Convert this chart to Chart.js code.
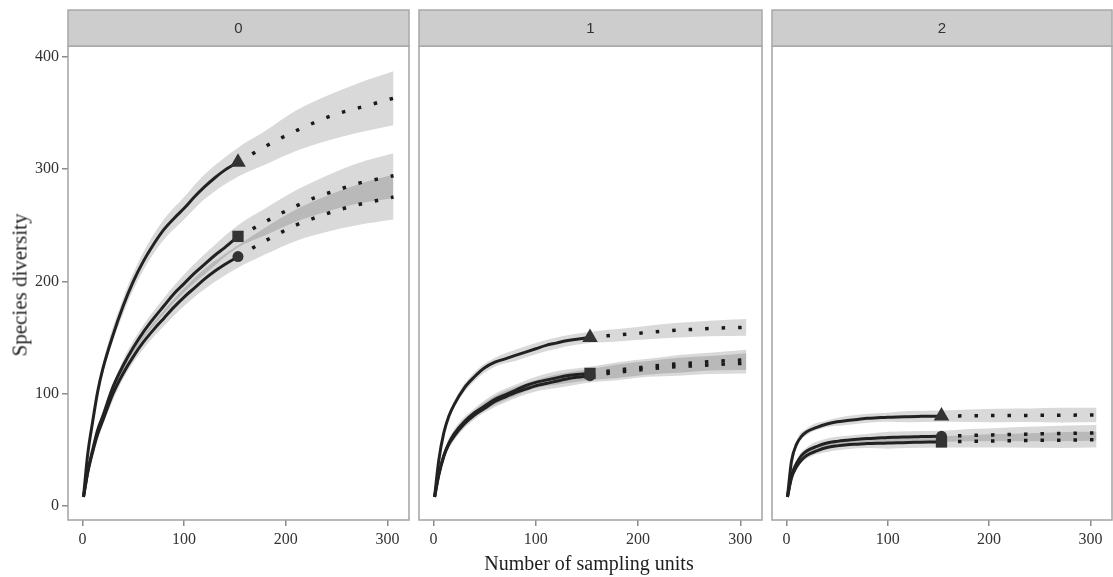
<!DOCTYPE html>
<html>
<head>
<meta charset="utf-8">
<script src="https://cdn.jsdelivr.net/npm/chart.js@4/dist/chart.umd.min.js"></script>
<style>
  html, body { margin: 0; padding: 0; background: #ffffff; }
  #wrap { position: relative; width: 1113px; height: 577px; overflow: hidden; }
  canvas { position: absolute; left: 0; top: 0; }
  .title { position: absolute; font-family: "Liberation Serif", "Times New Roman", serif; color: #1e1e1e; white-space: nowrap; }
  #xtitle { left: 589px; top: 563px; transform: translate(-50%, -50%); font-size: 20px; }
  #ytitle { left: 20px; top: 285px; transform: translate(-50%, -50%) rotate(-90deg); font-size: 21px; }
</style>
</head>
<body>
<div id="wrap">
  <canvas id="c0" width="1113" height="577"></canvas>
  <canvas id="c1" width="1113" height="577"></canvas>
  <canvas id="c2" width="1113" height="577"></canvas>
  <div class="title" id="xtitle">Number of sampling units</div>
  <div class="title" id="ytitle">Species diversity</div>
</div>
<script>
// ---- categories / ticks ----
const panelLabels = ["0", "1", "2"];
const xTicks = [0, 100, 200, 300];
const yTicks = [0, 100, 200, 300, 400];

// ---- sample sizes ----
const interpX = [1, 5, 10, 15, 20, 30, 40, 50, 60, 70, 80, 90, 100, 110, 120, 130, 140, 153];
const extrapX = [153, 170, 190, 210, 230, 250, 270, 290, 306];
const bandX   = [1, 10, 20, 40, 60, 80, 100, 120, 153, 180, 210, 240, 270, 306];

// ---- panel 0 (q = 0) ----
const p0TriInterp = [8, 45, 75, 102, 122, 152, 178, 200, 218, 233, 246, 256, 265, 275, 284, 292, 299, 306];
const p0TriExtrap = [306, 315, 325, 334, 342, 349, 354, 359, 363];
const p0TriLo = [8, 72, 117, 171, 210, 237, 255, 273, 293, 304, 316, 325, 332, 339];
const p0TriHi = [8, 78, 127, 185, 226, 255, 275, 295, 319, 334, 352, 365, 376, 387];
const p0SqInterp = [8, 30, 50, 68, 80, 106, 125, 141, 155, 167, 178, 189, 198, 207, 215, 223, 230, 240];
const p0SqExtrap = [240, 248, 258, 267, 275, 281, 287, 291, 294];
const p0SqLo = [8, 48, 76, 120, 149, 171, 190, 206, 230, 241, 253, 262, 269, 274];
const p0SqHi = [8, 52, 84, 130, 161, 185, 206, 224, 250, 265, 281, 294, 305, 314];
const p0CiInterp = [8, 29, 48, 64, 76, 100, 118, 133, 146, 157, 167, 177, 186, 194, 202, 209, 215, 222];
const p0CiExtrap = [222, 231, 241, 250, 257, 263, 268, 272, 275];
const p0CiLo = [8, 46, 72, 113, 140, 160, 178, 193, 212, 224, 236, 244, 250, 255];
const p0CiHi = [8, 50, 80, 123, 152, 174, 194, 211, 232, 248, 264, 276, 286, 295];

// ---- panel 1 (q = 1) ----
const p1TriInterp = [8, 40, 65, 80, 90, 105, 115, 123, 128, 131, 134, 137, 140, 143, 145, 147, 148.5, 150];
const p1TriExtrap = [150, 151.5, 153, 154.5, 156, 157, 158, 158.7, 159];
const p1TriLo = [8, 63, 87, 111, 124, 129, 135, 140, 145, 146.5, 148.5, 150, 151, 151.5];
const p1TriHi = [8, 67, 93, 119, 132, 139, 145, 150, 155, 157.5, 160.5, 163, 165, 166.5];
const p1SqInterp = [8, 28, 45, 56, 64, 75, 83, 89, 95, 99, 103, 107, 110, 112, 114, 116, 117, 118];
const p1SqExtrap = [118, 120, 122, 124, 126, 127, 128.5, 129.5, 130];
const p1SqLo = [8, 42, 60, 79, 90, 98, 105, 108, 112, 114, 117, 118.5, 120.5, 121];
const p1SqHi = [8, 48, 68, 87, 100, 108, 115, 120, 124, 128, 131, 134.5, 136.5, 139];
const p1CiInterp = [8, 27, 44, 55, 62, 73, 81, 87, 93, 97, 101, 104, 107, 109, 111, 113, 114.5, 116];
const p1CiExtrap = [116, 118, 120, 122, 123.5, 124.5, 125.5, 126.5, 127];
const p1CiLo = [8, 41, 58, 77, 88, 96, 102, 105, 110, 112, 115, 116, 117.5, 118];
const p1CiHi = [8, 47, 66, 85, 98, 106, 112, 117, 122, 126, 129, 132, 133.5, 136];

// ---- panel 2 (q = 2) ----
const p2TriInterp = [8, 40, 55, 62, 66, 70, 73, 75, 76, 77, 78, 78.5, 79, 79.3, 79.5, 79.7, 79.9, 80];
const p2TriExtrap = [80, 80.2, 80.4, 80.5, 80.6, 80.7, 80.8, 80.9, 81];
const p2TriLo = [8, 53, 63, 70, 72, 74, 75, 74.5, 75, 74.8, 74.5, 74.7, 74.4, 74.5];
const p2TriHi = [8, 57, 69, 76, 80, 82, 83, 84.5, 85, 85.8, 86.5, 86.7, 87.4, 87.5];
const p2SqInterp = [8, 25, 35, 41, 45, 49, 52, 53.5, 54.5, 55, 55.5, 55.8, 56, 56.2, 56.5, 56.7, 56.9, 57];
const p2SqExtrap = [57, 57.3, 57.6, 58, 58.2, 58.4, 58.6, 58.8, 59];
const p2SqLo = [8, 33, 42, 48, 50.5, 51.5, 51, 51.5, 52, 52, 52, 51.8, 51.7, 52];
const p2SqHi = [8, 37, 48, 56, 58.5, 59.5, 61, 61.5, 62, 63, 64, 64.8, 65.7, 66];
const p2CiInterp = [8, 27, 38, 45, 49, 53, 56, 57.5, 58.5, 59.3, 60, 60.5, 61, 61.2, 61.5, 61.7, 61.9, 62];
const p2CiExtrap = [62, 62.5, 63, 63.4, 63.8, 64.2, 64.5, 64.8, 65];
const p2CiLo = [8, 36, 46, 52, 54.5, 56, 56, 56.5, 57, 57.5, 57.5, 57.5, 57.5, 58];
const p2CiHi = [8, 40, 52, 60, 62.5, 64, 66, 66.5, 67, 68.5, 69.5, 70.5, 71.5, 72];

// ---- assembling ----
const panels = [
  { tri: [p0TriInterp, p0TriExtrap, p0TriLo, p0TriHi], sq: [p0SqInterp, p0SqExtrap, p0SqLo, p0SqHi], ci: [p0CiInterp, p0CiExtrap, p0CiLo, p0CiHi] },
  { tri: [p1TriInterp, p1TriExtrap, p1TriLo, p1TriHi], sq: [p1SqInterp, p1SqExtrap, p1SqLo, p1SqHi], ci: [p1CiInterp, p1CiExtrap, p1CiLo, p1CiHi] },
  { tri: [p2TriInterp, p2TriExtrap, p2TriLo, p2TriHi], sq: [p2SqInterp, p2SqExtrap, p2SqLo, p2SqHi], ci: [p2CiInterp, p2CiExtrap, p2CiLo, p2CiHi] }
];
const markerStyles = { tri: ["triangle", 9], sq: ["rect", 8], ci: ["circle", 5.5] };

function pts(xs, ys) { return xs.map((x, i) => ({ x: x, y: ys[i] })); }

function buildDatasets(p) {
  const ds = [];
  for (const key of ["tri", "sq", "ci"]) {
    const [interp, extrap, lo, hi] = p[key];
    ds.push({ data: pts(bandX, lo), borderWidth: 0, pointRadius: 0, fill: false, order: 3, cubicInterpolationMode: "monotone" });
    ds.push({ data: pts(bandX, hi), borderWidth: 0, pointRadius: 0, fill: "-1", backgroundColor: "rgba(0,0,0,0.15)", order: 3, cubicInterpolationMode: "monotone" });
  }
  for (const key of ["tri", "sq", "ci"]) {
    const [interp, extrap] = p[key];
    ds.push({ data: pts(interpX, interp), borderColor: "#222222", borderWidth: 3, pointRadius: 0, fill: false, order: 1, cubicInterpolationMode: "monotone" });
    ds.push({ data: pts(extrapX, extrap), borderColor: "#1a1a1a", borderWidth: 3.5, borderDash: [3.5, 13], borderCapStyle: "butt", pointRadius: 0, fill: false, order: 1, cubicInterpolationMode: "monotone" });
  }
  for (const key of ["tri", "sq", "ci"]) {
    const [interp] = p[key];
    const [style, r] = markerStyles[key];
    ds.push({ data: [{ x: interpX[interpX.length - 1], y: interp[interp.length - 1] }], showLine: false, pointStyle: style, pointRadius: r, pointBackgroundColor: "#333333", pointBorderWidth: 0, pointBorderColor: "#333333", order: 0 });
  }
  return ds;
}

const stripPlugin = {
  id: "strip",
  afterDraw(chart, args, opts) {
    const ctx = chart.ctx;
    const a = chart.chartArea;
    ctx.save();
    ctx.strokeStyle = "#a3a3a3";
    ctx.lineWidth = 1.5;
    ctx.strokeRect(a.left, a.top, a.right - a.left, a.bottom - a.top);
    ctx.fillStyle = "#cdcdcd";
    ctx.fillRect(a.left, 10, a.right - a.left, a.top - 10);
    ctx.strokeStyle = "#a8a8a8";
    ctx.strokeRect(a.left, 10, a.right - a.left, a.top - 10);
    ctx.fillStyle = "#333333";
    ctx.font = '15px "Liberation Sans", Arial, sans-serif';
    ctx.textAlign = "center";
    ctx.textBaseline = "middle";
    ctx.fillText(opts.label, (a.left + a.right) / 2, (10 + a.top) / 2 + 1);
    ctx.restore();
  }
};

const panelGeom = [
  { left: 0, right: 1113 - 409, showY: true },
  { left: 419, right: 1113 - 762, showY: false },
  { left: 772, right: 1, showY: false }
];

const tickFont = { family: '"Liberation Serif", "Times New Roman", serif', size: 16 };

panels.forEach((p, i) => {
  const g = panelGeom[i];
  new Chart(document.getElementById("c" + i), {
    type: "line",
    data: { datasets: buildDatasets(p) },
    plugins: [stripPlugin],
    options: {
      responsive: false,
      animation: false,
      events: [],
      layout: { autoPadding: false, padding: { left: g.left, right: g.right, top: 46, bottom: 0 } },
      plugins: {
        legend: { display: false },
        tooltip: { enabled: false },
        strip: { label: panelLabels[i] }
      },
      scales: {
        x: {
          type: "linear",
          min: -14.25,
          max: 321.25,
          afterBuildTicks: (s) => { s.ticks = xTicks.map(v => ({ value: v })); },
          afterFit: (s) => { s.height = 57; s.paddingLeft = 0; s.paddingRight = 0; },
          grid: { display: true, drawOnChartArea: false, drawTicks: true, tickLength: 6, color: "#8a8a8a", lineWidth: 1.5 },
          border: { display: false },
          ticks: { font: tickFont, color: "#333333", padding: 4, maxRotation: 0 }
        },
        y: {
          type: "linear",
          display: g.showY,
          min: -12.5,
          max: 409.5,
          afterBuildTicks: (s) => { s.ticks = yTicks.map(v => ({ value: v })); },
          afterFit: (s) => { if (g.showY) { s.width = 68; } s.paddingTop = 0; s.paddingBottom = 0; },
          grid: { display: true, drawOnChartArea: false, drawTicks: true, tickLength: 6, color: "#8a8a8a", lineWidth: 1.5 },
          border: { display: false },
          ticks: { font: tickFont, color: "#333333", padding: 3 }
        }
      }
    }
  });
});
</script>
</body>
</html>
